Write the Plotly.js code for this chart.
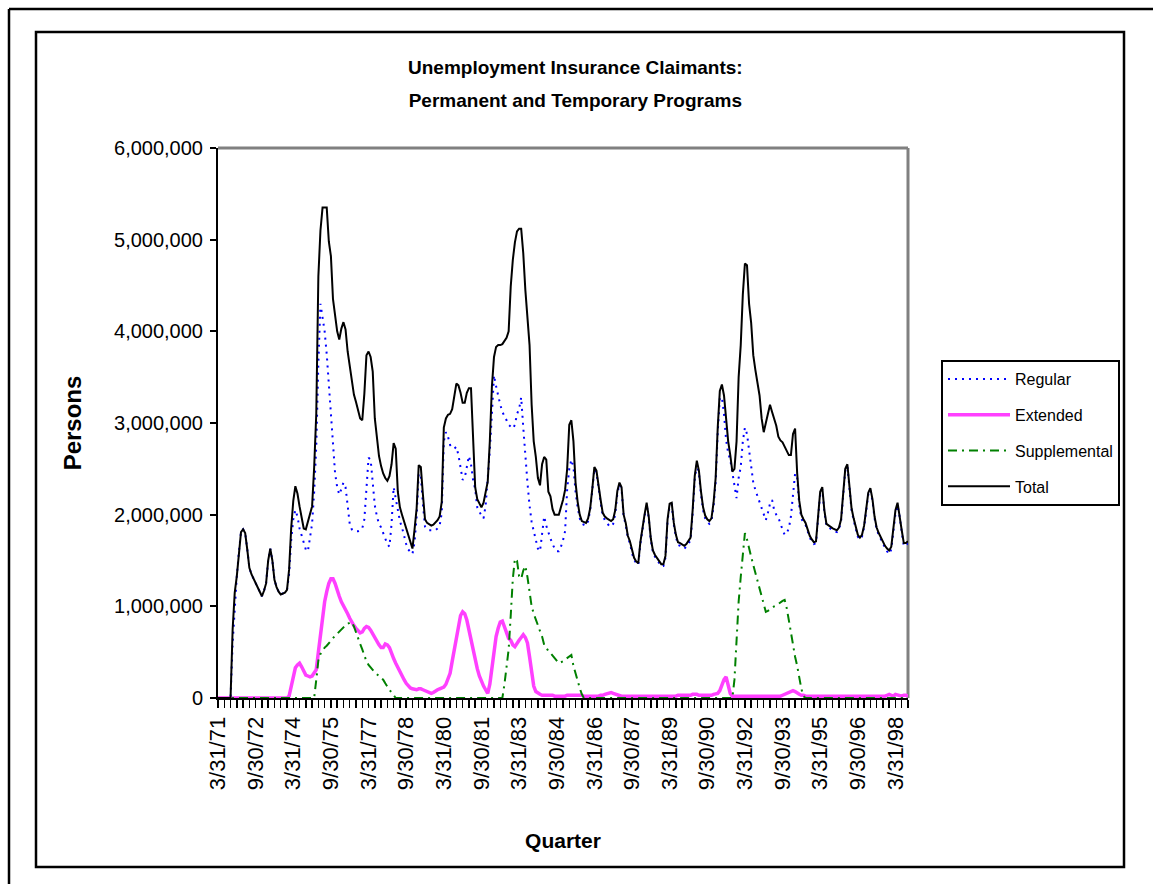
<!DOCTYPE html>
<html>
<head>
<meta charset="utf-8">
<script src="https://cdn.plot.ly/plotly-3.0.1.min.js"></script>
<style>
  html, body { margin: 0; padding: 0; background: #ffffff; }
  #chart { width: 1153px; height: 884px; }
</style>
</head>
<body>
<div id="chart"></div>
<script>
// Monthly observations, month 0 = 3/31/71 ... month 330 = 9/30/98 (values in millions of persons)
const tickLabels = ["3/31/71","9/30/72","3/31/74","9/30/75","3/31/77","9/30/78","3/31/80","9/30/81","3/31/83",
  "9/30/84","3/31/86","9/30/87","3/31/89","9/30/90","3/31/92","9/30/93","3/31/95","9/30/96","3/31/98"];

const regular = [
  0,0,0,0,0,0,0,
  0.60,1.00,1.33,1.60,1.81,1.84,1.80,1.62,1.42,1.35,
  1.30,1.26,1.21,1.17,1.11,1.17,1.25,1.50,1.63,1.50,
  1.29,1.21,1.16,1.13,1.14,1.15,1.18,
  1.35,1.72,1.95,2.05,1.98,1.85,1.78,1.70,1.62,1.60,
  1.75,1.90,2.25,2.75,3.65,4.30,4.15,4.00,3.75,3.40,
  3.05,2.68,2.45,2.30,2.22,2.28,2.35,2.30,2.12,1.90,
  1.84,1.82,1.82,1.82,1.83,1.85,1.95,2.30,2.62,2.60,
  2.35,2.10,1.98,1.90,1.86,1.80,1.73,1.68,1.65,1.90,
  2.30,2.18,2.02,1.93,1.86,1.76,1.68,1.62,1.59,1.57,
  1.70,1.98,2.45,2.42,2.12,1.87,1.84,1.83,1.83,1.83,
  1.83,1.85,1.88,2.02,2.80,2.90,2.85,2.76,2.73,2.72,
  2.74,2.65,2.50,2.38,2.40,2.52,2.64,2.55,2.38,2.28,
  2.08,2.03,2.00,1.96,2.10,2.38,2.70,3.10,3.52,3.40,
  3.28,3.20,3.12,3.08,3.03,2.98,2.96,2.94,2.98,3.10,
  3.15,3.28,2.95,2.60,2.35,2.10,1.92,1.82,1.72,1.63,
  1.60,1.80,1.98,1.88,1.80,1.74,1.68,1.63,1.60,1.60,
  1.65,1.72,1.82,2.28,2.50,2.60,2.52,2.25,2.08,1.96,
  1.90,1.89,1.88,1.93,
  2.05,2.26,2.50,2.46,2.28,2.13,1.99,1.94,1.91,
  1.88,1.87,1.90,2.01,2.23,2.33,2.28,1.98,1.89,1.75,
  1.69,1.58,1.51,1.47,1.45,1.68,1.85,1.98,2.11,1.96,
  1.72,1.59,1.54,1.51,1.48,1.44,1.44,1.53,1.93,2.10,
  2.11,1.89,1.76,1.67,1.66,1.64,1.63,1.65,1.68,1.72,
  2.01,2.38,2.55,2.45,2.22,2.05,1.96,1.92,1.90,1.93,
  2.09,2.35,
  2.90,3.27,3.28,3.10,2.82,2.67,2.60,2.45,2.30,2.18,
  2.40,2.52,2.80,2.95,2.88,2.70,2.50,2.35,2.27,2.20,
  2.13,2.06,2.01,1.94,2.02,2.12,2.16,2.05,2.00,1.97,
  1.90,1.84,1.78,1.80,1.85,1.98,2.20,2.45,2.40,2.10,
  1.96,1.91,
  1.89,1.82,1.75,1.71,1.68,1.69,1.93,2.23,2.28,2.03,
  1.88,1.86,1.84,1.83,1.82,1.81,1.84,1.93,2.21,2.48,
  2.53,2.28,2.05,1.94,1.84,1.76,1.73,1.76,1.86,2.03,
  2.22,2.27,2.15,1.96,1.84,1.78,1.73,1.68,1.64,1.60,
  1.57,1.62,1.83,2.01,2.10,1.98,1.81,1.66,1.66,1.69
];

const extended = [
  0,0,0,0,0,0,0,0,0,0,
  0,0,0,0,0,0,0,0,0,0,
  0,0,0,0,0,0,0,0,0,0,
  0,0,0,0,
  0.02,0.13,0.25,0.33,0.36,0.38,0.34,0.29,0.25,0.24,
  0.23,0.24,0.27,0.31,0.50,0.68,0.88,1.05,1.16,1.25,
  1.30,1.30,1.25,1.17,1.11,1.05,1.01,0.96,0.92,0.87,
  0.82,0.79,0.76,0.73,0.71,0.72,0.76,0.78,0.77,0.74,
  0.70,0.66,0.61,0.58,0.55,0.55,0.59,0.58,0.55,0.48,
  0.43,0.38,0.33,0.28,0.24,0.20,0.16,0.13,0.11,0.10,
  0.09,0.09,0.10,0.10,0.09,0.08,0.07,0.06,0.05,0.06,
  0.08,0.09,0.10,0.11,0.12,0.15,0.20,0.27,0.40,0.53,
  0.68,0.82,0.90,0.94,0.92,0.85,0.74,0.63,0.50,0.40,
  0.32,0.24,0.18,0.13,0.09,0.05,0.15,0.35,0.53,0.67,
  0.76,0.83,0.84,0.77,0.72,0.65,0.63,0.58,0.56,0.60,
  0.63,0.66,0.69,0.66,0.60,0.45,0.30,0.13,0.07,0.05,
  0.04,0.03,0.03,0.03,0.03,0.03,0.03,0.02,0.02,0.02,
  0.02,0.02,0.02,0.03,0.03,0.03,0.03,0.03,0.03,0.03,
  0.03,0.02,0.02,0.02,0.02,0.02,0.02,0.02,0.02,0.03,
  0.03,0.04,0.05,0.06,0.06,0.05,0.04,0.03,0.02,0.02,
  0.02,0.02,0.02,0.02,0.02,0.02,0.02,0.02,0.02,0.02,
  0.02,0.02,0.02,0.02,0.02,0.02,0.02,0.02,0.02,0.02,
  0.02,0.02,0.02,0.02,0.02,0.02,0.03,0.03,0.03,0.03,
  0.03,0.03,0.03,0.04,0.04,0.04,0.03,0.03,0.03,0.03,
  0.03,0.03,0.03,0.04,0.05,0.05,0.08,0.14,0.20,0.23,
  0.13,0.05,0.02,0.02,0.02,0.02,0.02,0.02,0.02,0.02,
  0.02,0.02,0.02,0.02,0.02,0.02,0.02,0.02,0.02,0.02,
  0.02,0.02,0.02,0.02,0.02,0.02,0.03,0.04,0.06,0.07,
  0.08,0.08,0.07,0.05,0.04,0.03,0.03,0.02,0.02,0.02,
  0.02,0.02,0.02,0.02,0.02,0.02,0.02,0.02,0.02,0.02,
  0.02,0.02,0.02,0.02,0.02,0.02,0.02,0.02,0.02,0.02,
  0.02,0.02,0.02,0.02,0.02,0.02,0.02,0.02,0.02,0.02,
  0.02,0.02,0.02,0.02,0.02,0.02,0.03,0.04,0.03,0.02,
  0.04,0.03,0.02,0.02,0.03,0.03,0.02
];

const supplemental = [
  0,0,0,0,0,0,0,0,0,0,
  0,0,0,0,0,0,0,0,0,0,
  0,0,0,0,0,0,0,0,0,0,
  0,0,0,0,0,0,0,0,0,0,
  0,0,0,0,0,0,0,
  0.20,0.41,0.48,0.52,0.55,0.57,0.60,0.63,0.66,0.68,
  0.70,0.72,0.74,0.77,0.80,0.81,0.82,0.83,0.78,0.71,
  0.66,0.59,0.53,0.46,0.40,0.36,0.33,0.31,0.28,0.26,
  0.24,0.22,0.20,0.16,0.12,0.09,0.06,0.03,0,0,
  0,0,0,0,0,0,0,0,0,0,
  0,0,0,0,0,0,0,0,0,0,
  0,0,0,0,0,0,0,0,0,0,
  0,0,0,0,0,0,0,0,0,0,
  0,0,0,0,0,0,0,0,0,0,
  0.15,0.33,0.53,0.90,1.30,1.52,1.50,1.33,1.30,1.39,
  1.44,1.32,1.15,1.00,0.92,0.85,0.79,0.73,0.67,0.58,
  0.55,0.51,0.49,0.46,0.43,0.40,0.38,0.39,0.40,0.42,
  0.44,0.46,0.47,0.35,0.26,0.19,0.11,0.04,0,0,
  0,0,0,0,0,0,0,0,0,0,
  0,0,0,0,0,0,0,0,0,0,
  0,0,0,0,0,0,0,0,0,0,
  0,0,0,0,0,0,0,0,0,0,
  0,0,0,0,0,0,0,0,0,0,
  0,0,0,0,0,0,0,0,0,0,
  0,0,0,0,0,0,0,0,0,0,
  0.20,0.65,1.05,1.32,1.60,1.80,1.73,1.62,1.54,1.45,
  1.36,1.27,1.18,1.10,1.00,0.94,0.95,0.97,0.98,1.00,
  1.01,1.03,1.05,1.06,1.07,0.98,0.85,0.70,0.58,0.45,
  0.35,0.22,0.10,0.02,
  0,0,0,0,0,0,0,0,0,0,
  0,0,0,0,0,0,0,0,0,0,
  0,0,0,0,0,0,0,0,0,0,
  0,0,0,0,0,0,0,0,0,0,
  0,0,0,0,0,0,0,0,0,0
];

const total = [
  0,0,0,0,0,0,0,
  0.75,1.15,1.33,1.60,1.81,1.84,1.80,1.62,1.42,1.35,
  1.30,1.26,1.21,1.17,1.11,1.17,1.25,1.50,1.63,1.50,
  1.29,1.21,1.16,1.13,1.14,1.15,1.18,1.40,1.85,2.15,
  2.31,2.23,2.09,1.98,1.85,1.84,1.92,2.02,2.09,2.52,
  3.10,4.60,5.10,5.35,5.35,5.35,4.98,4.82,4.35,4.15,
  4.00,3.91,4.03,4.10,4.02,3.78,3.64,3.50,3.31,3.23,
  3.15,3.05,3.03,3.32,3.74,3.78,3.72,3.56,3.05,2.85,
  2.64,2.53,2.45,2.40,2.37,2.42,2.55,2.78,2.72,2.25,
  2.08,2.00,1.93,1.86,1.78,1.71,1.63,1.84,2.07,2.54,
  2.52,2.22,1.95,1.91,1.89,1.88,1.89,1.91,1.94,1.98,
  2.14,2.95,3.05,3.09,3.10,3.15,3.28,3.43,3.41,3.33,
  3.22,3.22,3.33,3.38,3.38,2.75,2.30,2.17,2.12,2.08,
  2.13,2.23,2.36,2.80,3.40,3.72,3.83,3.85,3.85,3.86,
  3.89,3.93,4.00,4.49,4.78,4.97,5.09,5.12,5.12,4.85,
  4.45,4.18,3.85,3.20,2.80,2.63,2.40,2.32,2.55,2.63,
  2.60,2.25,2.20,2.06,2.00,2.00,2.00,2.08,2.16,2.27,
  2.50,2.98,3.03,2.80,2.35,2.14,2.00,1.93,1.92,1.91,
  1.96,2.07,2.28,2.52,2.48,2.30,2.16,2.02,1.98,1.96,
  1.94,1.93,1.95,2.05,2.26,2.35,2.30,2.00,1.91,1.77,
  1.71,1.60,1.53,1.49,1.47,1.70,1.87,2.00,2.13,1.98,
  1.74,1.61,1.56,1.53,1.50,1.46,1.46,1.55,1.95,2.12,
  2.13,1.91,1.78,1.70,1.69,1.67,1.66,1.68,1.71,1.75,
  2.05,2.42,2.59,2.48,2.25,2.08,1.99,1.95,1.93,1.96,
  2.13,2.40,2.95,3.35,3.42,3.30,3.05,2.80,2.65,2.47,
  2.50,2.80,3.50,3.85,4.40,4.74,4.72,4.30,4.09,3.74,
  3.58,3.46,3.30,3.05,2.90,3.00,3.10,3.20,3.12,3.05,
  2.97,2.85,2.81,2.79,2.74,2.70,2.65,2.65,2.88,2.94,
  2.45,2.15,2.00,1.95,1.91,1.84,1.77,1.73,1.70,1.71,
  1.95,2.25,2.30,2.05,1.90,1.88,1.86,1.85,1.84,1.83,
  1.86,1.95,2.23,2.50,2.55,2.30,2.07,1.96,1.86,1.78,
  1.75,1.78,1.88,2.05,2.24,2.29,2.17,1.98,1.86,1.80,
  1.75,1.70,1.66,1.63,1.61,1.65,1.85,2.05,2.13,2.00,
  1.83,1.69,1.69,1.71
];

const seriesNames = ["Regular", "Extended", "Supplemental", "Total"];
const seriesData = [regular, extended, supplemental, total];
const seriesColors = ["#0000FF", "#FF40FF", "#008000", "#000000"];
const seriesWidths = [2, 3.5, 2, 2];
const seriesDash = ["2px,5px", "solid", "9px,5px,2px,5px", "solid"];

const titleLines = ["Unemployment Insurance Claimants:", "Permanent and Temporary Programs"];

const MILLION = 1e6;
const nMonths = total.length;
const monthIndex = total.map((_, i) => i);

// tick marks every quarter, label every 18 months
const tickVals = [];
const tickText = [];
for (let i = 0; i < nMonths; i += 3) {
  tickVals.push(i);
  tickText.push(i % 18 === 0 ? tickLabels[i / 18] : "");
}

const traces = seriesNames.map((name, k) => ({
  type: "scatter",
  mode: "lines",
  name: name,
  legendgroup: name,
  x: monthIndex,
  y: seriesData[k].map(v => v * MILLION),
  line: { color: seriesColors[k], width: seriesWidths[k], dash: seriesDash[k] },
  hoverinfo: "skip"
}));

// pixel helpers for frame shapes (plot area: x 218..908, y 148..698)
const PL = 218, PR = 908, PT = 148, PB = 698;
const px = v => (v - PL) / (PR - PL);
const py = v => (PB - v) / (PB - PT);

const FONT = "Liberation Sans, Arial, sans-serif";

const layout = {
  width: 1153,
  height: 884,
  margin: { l: PL, r: 1153 - PR, t: PT, b: 884 - PB },
  paper_bgcolor: "#ffffff",
  plot_bgcolor: "rgba(0,0,0,0)",
  showlegend: true,
  font: { family: FONT, color: "#000000" },
  title: {
    // line pitch follows the outer font size (25px -> ~33px), glyphs use 19px
    text: titleLines.map(t => '<span style="font-size:19px">' + t + '</span>').join("<br>"),
    font: { family: FONT, size: 25, weight: "bold", color: "#000000" },
    x: 0.499, xanchor: "center",
    y: 1 - 74 / 884, yanchor: "middle"
  },
  xaxis: {
    range: [0, nMonths - 1],
    tickmode: "array",
    tickvals: tickVals,
    ticktext: tickText,
    tickangle: -90,
    ticks: "outside",
    ticklen: 8,
    tickwidth: 1.5,
    tickcolor: "#000000",
    ticklabelstandoff: 0,
    tickfont: { family: FONT, size: 22, color: "#000000" },
    showline: true,
    linecolor: "#000000",
    linewidth: 2,
    showgrid: false,
    zeroline: false,
    title: { text: "Quarter", font: { family: FONT, size: 21, weight: "bold", color: "#000000" }, standoff: 44 }
  },
  yaxis: {
    range: [0, 6 * MILLION],
    tickmode: "linear",
    tick0: 0,
    dtick: MILLION,
    tickformat: ",d",
    ticks: "outside",
    ticklen: 6,
    tickwidth: 2,
    tickcolor: "#000000",
    ticklabelstandoff: 3,
    tickfont: { family: FONT, size: 20, color: "#000000" },
    showline: true,
    linecolor: "#000000",
    linewidth: 2,
    showgrid: false,
    zeroline: false,
    title: { text: "Persons", font: { family: FONT, size: 24, weight: "bold", color: "#000000" }, standoff: 26 }
  },
  legend: {
    x: px(941), xanchor: "left",
    y: py(360), yanchor: "top",
    bgcolor: "#ffffff",
    bordercolor: "#000000",
    borderwidth: 2,
    font: { family: FONT, size: 16, color: "#000000" },
    itemwidth: 62,
    traceorder: "grouped",
    tracegroupgap: 12
  },
  shapes: [
    // plot area border (grey) top and right
    { type: "line", xref: "paper", yref: "paper", x0: 0, x1: 1, y0: 1, y1: 1,
      line: { color: "#808080", width: 3 }, layer: "below" },
    { type: "line", xref: "paper", yref: "paper", x0: 1, x1: 1, y0: 0, y1: 1,
      line: { color: "#808080", width: 3 }, layer: "below" },
    // chart area frame
    { type: "rect", xref: "paper", yref: "paper", x0: px(36), x1: px(1124), y0: py(867), y1: py(32),
      line: { color: "#000000", width: 2.5 }, fillcolor: "rgba(0,0,0,0)", layer: "below" },
    // outer page frame (top and left edges)
    { type: "line", xref: "paper", yref: "paper", x0: px(9), x1: px(1170), y0: py(9), y1: py(9),
      line: { color: "#000000", width: 2.5 }, layer: "below" },
    { type: "line", xref: "paper", yref: "paper", x0: px(9), x1: px(9), y0: py(9), y1: py(900),
      line: { color: "#000000", width: 2.5 }, layer: "below" }
  ]
};

Plotly.newPlot("chart", traces, layout, { staticPlot: true, displayModeBar: false });
</script>
</body>
</html>
